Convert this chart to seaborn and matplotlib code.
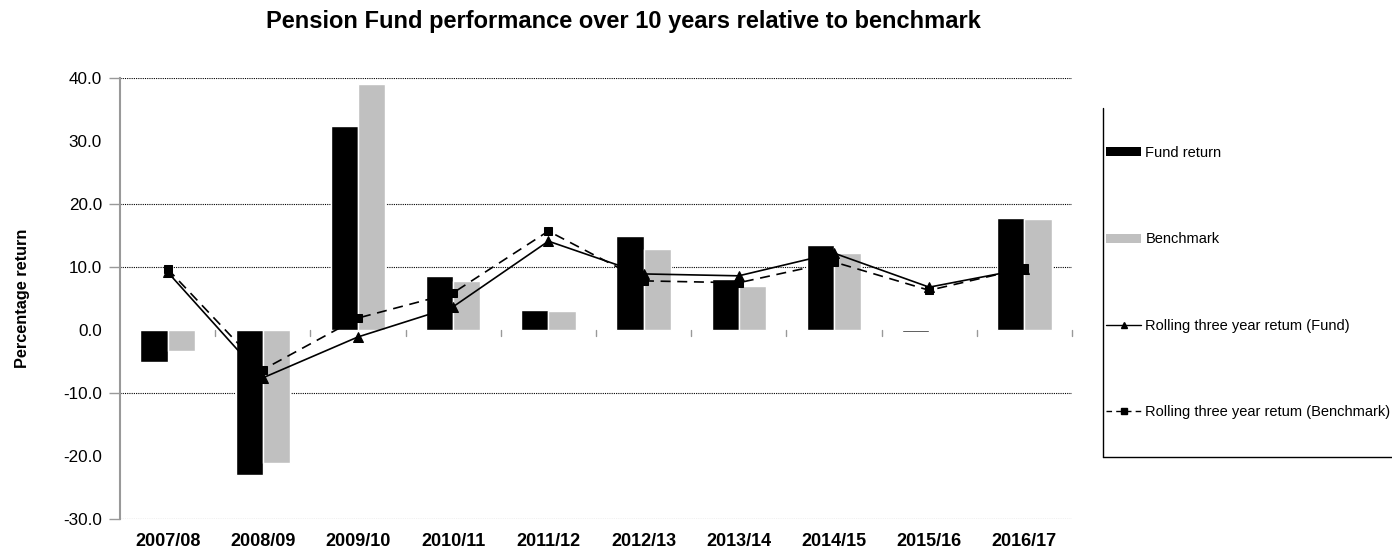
import numpy as np
import pandas as pd
import matplotlib
matplotlib.use("Agg")
import matplotlib.pyplot as plt
import seaborn as sns
from matplotlib.patches import Patch
from matplotlib.lines import Line2D

years = ["2007/08", "2008/09", "2009/10", "2010/11", "2011/12",
         "2012/13", "2013/14", "2014/15", "2015/16", "2016/17"]
fund_return = [-5.1, -23.0, 32.4, 8.6, 3.2, 14.9, 8.1, 13.5, -0.3, 17.7]
benchmark = [-3.3, -21.1, 39.0, 7.8, 3.0, 12.9, 7.0, 12.2, 0.0, 17.6]
rolling_fund = [9.2, -7.6, -1.1, 3.7, 14.1, 8.9, 8.6, 12.2, 6.8, 9.7]
rolling_bench = [9.7, -6.3, 1.9, 5.9, 15.7, 7.8, 7.5, 10.8, 6.3, 9.8]
yticks = [40, 30, 20, 10, 0, -10, -20, -30]
grid_vals = [40, 20, 10, -10, -30]
series_names = ["Fund return", "Benchmark",
                "Rolling three year retum (Fund)",
                "Rolling three year retum (Benchmark)"]

sns.set_theme(style="white")
plt.rcParams['font.family'] = ['Liberation Sans', 'DejaVu Sans']
plt.rcParams['text.color'] = 'black'
plt.rcParams['axes.labelcolor'] = 'black'
plt.rcParams['xtick.color'] = 'black'
plt.rcParams['ytick.color'] = 'black'

bars = pd.DataFrame({
    "year": years * 2,
    "value": fund_return + benchmark,
    "series": [series_names[0]] * len(years) + [series_names[1]] * len(years),
})
lines = pd.DataFrame({"pos": np.arange(len(years)),
                      "rf": rolling_fund, "rb": rolling_bench})

fig = plt.figure(figsize=(13.92, 5.56), dpi=100)
ax = fig.add_axes([120 / 1392, 1 - 519 / 556, 952 / 1392, 441 / 556])

for g in grid_vals:
    ax.axhline(g, color="black", lw=0.8, ls=(0, (1, 1)), zorder=0)

sns.barplot(data=bars, x="year", y="value", hue="series", order=years,
            palette=["#000000", "#C0C0C0"], width=0.57, gap=0,
            saturation=1, ax=ax, legend=False, zorder=2)

sns.lineplot(data=lines, x="pos", y="rf", color="black", lw=1.2,
             marker="^", markersize=7, markeredgecolor="black", ax=ax, zorder=3)
sns.lineplot(data=lines, x="pos", y="rb", color="black", lw=1.2,
             linestyle=(0, (6, 4)), marker="s", markersize=6,
             markeredgecolor="black", ax=ax, zorder=3)

ax.set_xlim(-0.5, len(years) - 0.5)
ax.set_ylim(-30, 40)
ax.set_yticks(yticks)
ax.set_yticklabels([f"{v:.1f}" for v in yticks], fontsize=12.3)
ax.set_xticks(np.arange(len(years)))
ax.set_xticklabels(years, fontsize=13, fontweight="bold")
ax.tick_params(axis="x", length=0, pad=10)
ax.tick_params(axis="y", length=8, color="#999999", width=1, pad=5, left=True)
for t, v in zip(ax.yaxis.get_major_ticks(), yticks):
    if v not in grid_vals:
        t.tick1line.set_visible(False)
# category boundary ticks on zero line
for b in np.arange(-0.5, len(years), 1.0)[1:]:
    ax.plot([b, b], [0, -0.9], color="#999999", lw=1, zorder=1, clip_on=False)

ax.set_xlabel("")
ax.set_ylabel("Percentage return", fontsize=11.7, fontweight="bold", labelpad=24)
for s in ["top", "right", "bottom"]:
    ax.spines[s].set_visible(False)
ax.spines["left"].set_color("#999999")
ax.spines["left"].set_linewidth(1.5)

fig.suptitle("Pension Fund performance over 10 years relative to benchmark",
             x=623 / 1392, y=1 - 10 / 556, va="top", fontsize=17, fontweight="bold")

# legend box (left and bottom edges)
fig.add_artist(Line2D([1103 / 1392, 1103 / 1392], [1 - 108 / 556, 1 - 457 / 556],
                      color="black", lw=1, transform=fig.transFigure))
fig.add_artist(Line2D([1103 / 1392, 1.0], [1 - 457 / 556, 1 - 457 / 556],
                      color="black", lw=1, transform=fig.transFigure))

handles = [Patch(facecolor="#000000", edgecolor="none"),
           Patch(facecolor="#C0C0C0", edgecolor="none"),
           Line2D([0], [0], color="black", lw=1, marker="^", markersize=5),
           Line2D([0], [0], color="black", lw=1, ls=(0, (4, 3)), marker="s", markersize=5)]
fig.legend(handles, series_names, loc="upper left",
           bbox_to_anchor=(1106 / 1392, 1 - 146 / 556), frameon=False,
           fontsize=10.5, labelspacing=4.96, handlelength=2.4,
           handleheight=0.6, handletextpad=0.3, borderaxespad=0, borderpad=0)

fig.savefig("out.png", dpi=100)
